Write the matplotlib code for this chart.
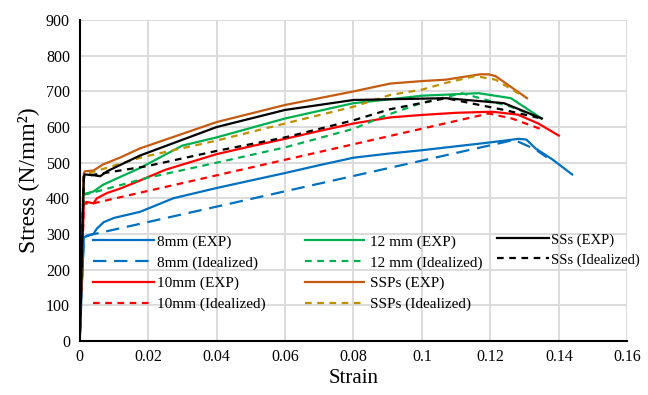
import matplotlib
matplotlib.use("Agg")
import matplotlib.pyplot as plt
from matplotlib.ticker import FuncFormatter, MultipleLocator

plt.rcParams['font.family'] = ['Liberation Serif', 'DejaVu Serif']

# 8mm
e8_x = [0, 0.0012, 0.002, 0.004, 0.005, 0.007, 0.01, 0.0176, 0.0273, 0.04, 0.05, 0.06,
        0.07, 0.08, 0.0907, 0.1, 0.11, 0.12, 0.1283, 0.1305, 0.1332, 0.138, 0.1439]
e8_y = [0, 290, 295, 300, 315, 333, 345, 362, 400, 429, 450, 471,
        493, 514, 526, 535, 546, 557, 567, 565, 540, 510, 467]
i8_x = [0, 0.0012, 0.003, 0.127, 0.1332, 0.1365]
i8_y = [0, 290, 297, 564, 537, 515]

# 10mm
e10_x = [0, 0.0012, 0.002, 0.004, 0.005, 0.008, 0.012, 0.0176, 0.025, 0.04, 0.05, 0.06,
         0.07, 0.08, 0.0907, 0.1, 0.11, 0.1205, 0.128, 0.134, 0.14]
e10_y = [0, 385, 390, 386, 400, 415, 428, 450, 480, 524, 546, 567,
         589, 610, 627, 634, 640, 643, 635, 610, 576]
i10_x = [0, 0.0012, 0.004, 0.1195, 0.1263, 0.136]
i10_y = [0, 385, 386, 638, 624, 590]

# 12mm
e12_x = [0, 0.001, 0.002, 0.004, 0.0068, 0.01, 0.0176, 0.03, 0.04, 0.06, 0.08, 0.0907,
         0.1, 0.1166, 0.126, 0.135]
e12_y = [0, 410, 414, 419, 438, 452, 485, 548, 571, 624, 667, 678,
         688, 695, 681, 624]
i12_x = [0, 0.001, 0.003, 0.0195, 0.04, 0.06, 0.08, 0.0887, 0.1, 0.1117, 0.126, 0.1345]
i12_y = [0, 410, 414, 457, 500, 543, 595, 630, 668, 695, 657, 626]

# SSPs
esp_x = [0, 0.0012, 0.0015, 0.004, 0.0068, 0.0117, 0.0176, 0.04, 0.06, 0.08, 0.0907,
         0.1, 0.107, 0.117, 0.1195, 0.1215, 0.1307]
esp_y = [0, 470, 476, 478, 495, 514, 540, 614, 662, 700, 722,
         729, 733, 748, 748, 743, 681]
isp_x = [0, 0.0012, 0.0015, 0.018, 0.04, 0.06, 0.08, 0.0907, 0.1, 0.107, 0.1156,
         0.1215, 0.130]
isp_y = [0, 462, 467, 515, 562, 610, 657, 690, 705, 724, 743, 733, 684]

# SSs
ess_x = [0, 0.0012, 0.0015, 0.004, 0.006, 0.008, 0.0176, 0.04, 0.06, 0.08, 0.0907,
         0.107, 0.124, 0.135]
ess_y = [0, 462, 467, 465, 462, 476, 520, 600, 648, 676, 678,
         681, 667, 624]
iss_x = [0, 0.0012, 0.004, 0.0195, 0.04, 0.06, 0.08, 0.0907, 0.107, 0.124, 0.134]
iss_y = [0, 460, 466, 490, 533, 571, 619, 650, 681, 648, 626]

blue = '#0070C0'
red = '#FF0000'
green = '#00B050'
orange = '#C55A11'
brown = '#BF8F00'
black = '#000000'

fig = plt.figure(figsize=(6.48, 3.95), dpi=100)
ax = fig.add_axes([0.123, 0.137, 0.845, 0.812])

lw = 1.6
l1, = ax.plot(e8_x, e8_y, color=blue, lw=lw, label='8mm (EXP)')
l2, = ax.plot(i8_x, i8_y, color=blue, lw=lw, ls=(0, (6, 3.5)), label='8mm (Idealized)')
l3, = ax.plot(e10_x, e10_y, color=red, lw=lw, label='10mm (EXP)')
l4, = ax.plot(i10_x, i10_y, color=red, lw=lw, ls=(0, (3, 2.5)), label='10mm (Idealized)')
l5, = ax.plot(e12_x, e12_y, color=green, lw=lw, label='12 mm (EXP)')
l6, = ax.plot(i12_x, i12_y, color=green, lw=lw, ls=(0, (3, 2.5)), label='12 mm (Idealized)')
l7, = ax.plot(esp_x, esp_y, color=orange, lw=lw, label='SSPs (EXP)')
l8, = ax.plot(isp_x, isp_y, color=brown, lw=lw, ls=(0, (3, 2.5)), label='SSPs (Idealized)')
l9, = ax.plot(ess_x, ess_y, color=black, lw=lw, label='SSs (EXP)')
l10, = ax.plot(iss_x, iss_y, color=black, lw=lw, ls=(0, (3, 2.5)), label='SSs (Idealized)')

ax.set_xlim(0, 0.16)
ax.set_ylim(0, 900)
ax.xaxis.set_major_locator(MultipleLocator(0.02))
ax.yaxis.set_major_locator(MultipleLocator(100))
ax.xaxis.set_major_formatter(FuncFormatter(lambda v, p: '%g' % round(v, 2)))
ax.grid(True, color='#d9d9d9', lw=1.3)
ax.set_axisbelow(True)
ax.tick_params(length=0, labelsize=11.5)
ax.tick_params(axis='y', pad=7)
ax.tick_params(axis='x', pad=6)
for s in ['top', 'right']:
    ax.spines[s].set_visible(False)
for s in ['left', 'bottom']:
    ax.spines[s].set_linewidth(1.5)
    ax.spines[s].set_color('black')

ax.set_xlabel('Strain', fontsize=15, labelpad=3)
ax.set_ylabel('Stress (N/mm²)', fontsize=17, labelpad=5)

# legend in three columns
leg_kw = dict(frameon=False, loc='upper left', borderpad=0,
              borderaxespad=0, labelspacing=0.45)
leg1 = ax.legend(handles=[l1, l2, l3, l4], bbox_to_anchor=(0.024, 0.33),
                 handlelength=4.0, handletextpad=0.2, fontsize=11, **leg_kw)
ax.add_artist(leg1)
leg2 = ax.legend(handles=[l5, l6, l7, l8], bbox_to_anchor=(0.411, 0.33),
                 handlelength=3.9, handletextpad=0.35, fontsize=11, **leg_kw)
ax.add_artist(leg2)
leg3 = ax.legend(handles=[l9, l10], bbox_to_anchor=(0.762, 0.336),
                 handlelength=3.6, handletextpad=0.1, fontsize=10.5, **leg_kw)

fig.savefig('out.png', dpi=100)
